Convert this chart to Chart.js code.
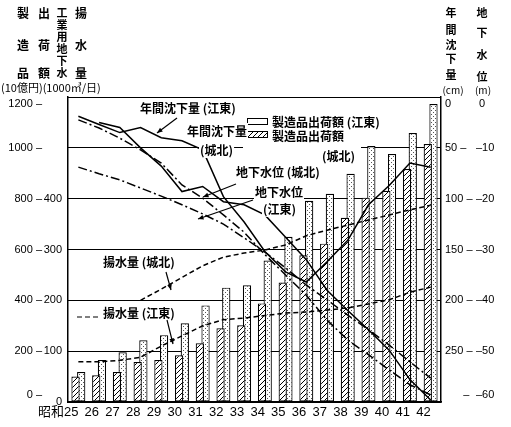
<!DOCTYPE html>
<html>
<head>
<meta charset="utf-8">
<script src="https://cdn.jsdelivr.net/npm/chart.js@4.4.0/dist/chart.umd.min.js"></script>
<style>
  html, body { margin: 0; padding: 0; background: #fff; }
</style>
</head>
<body>
<canvas id="chart" width="511" height="427"></canvas>
<script>
// 昭和25〜42年
const years = ['昭和25','26','27','28','29','30','31','32','33','34','35','36','37','38','39','40','41','42'];

// 製造品出荷額 (10億円)
const shipKoto   = [118, 165, 196, 243, 263, 310, 380, 450, 459, 557, 650, 792, 819, 898, 1007, 976, 1058, 1172];
const shipJohoku = [100, 105, 118, 157, 165, 184, 231, 290, 302, 388, 470, 577, 623, 725, 804, 831, 917, 1015];

// 年間沈下量 (cm)
const subsKoto   = [19, 27, 35, 30, 40, 43, 52, 98, 123, 152, 172, 182, 162, 141, 106, 87, 65, 69];
const subsJohoku = [null, 25, 30, 50, 68, 93, 88, 103, 106, 116, 138, 160, 190, 210, 229, 249, 278, 298];

// 地下水位 (m)
const wlJohoku = [-4.5, -6.1, -8.1, -10.4, -13, -17.3, -19.9, -23.2, -26.6, -31, -35, -39, -43.9, -47.8, -50.7, -53.7, -56.6, -58.6];
const wlKoto   = [-13.8, -15.1, -16.3, -17.9, -19.5, -21.2, -23, -25, -27.7, -30.5, -33.6, -37, -39.9, -42.9, -45.8, -48.8, -52.1, -55.3];

// 工業用地下水揚水量 (1000m3/日)
const pumpJohoku = [null, null, null, 200, 222, 245, 268, 285, 293, 299, 309, 327, 338, 348, 358, 368, 378, 387];
const pumpKoto   = [79, 79, 82, 88, 110, 130, 150, 162, 165, 170, 175, 177, 181, 185, 193, 201, 216, 226];

const numFont = { family: "'Liberation Sans', Arial, sans-serif", size: 11 };
const jpFont = "'Noto Sans CJK JP', 'Noto Sans', sans-serif";

function hatchPattern() {
  const c = document.createElement('canvas');
  c.width = 5; c.height = 5;
  const g = c.getContext('2d');
  g.fillStyle = '#fff'; g.fillRect(0, 0, 5, 5);
  g.strokeStyle = '#000'; g.lineWidth = 1;
  g.beginPath();
  g.moveTo(0, 5); g.lineTo(5, 0);
  g.moveTo(-1, 1); g.lineTo(1, -1);
  g.moveTo(4, 6); g.lineTo(6, 4);
  g.stroke();
  return g.createPattern(c, 'repeat');
}
function dotPattern() {
  const c = document.createElement('canvas');
  c.width = 4; c.height = 4;
  const g = c.getContext('2d');
  g.fillStyle = '#fff'; g.fillRect(0, 0, 4, 4);
  g.fillStyle = '#555';
  g.fillRect(1, 0, 1, 1);
  g.fillRect(3, 2, 1, 1);
  return g.createPattern(c, 'repeat');
}

const whiteBg = {
  id: 'whiteBg',
  beforeDraw(chart) {
    const ctx = chart.ctx;
    ctx.save();
    ctx.fillStyle = '#fff';
    ctx.fillRect(0, 0, chart.width, chart.height);
    ctx.restore();
  }
};

// axis titles, legend and labels
const notes = {
  id: 'notes',
  afterDraw(chart) {
    const ctx = chart.ctx;
    ctx.save();
    ctx.fillStyle = '#000';
    ctx.strokeStyle = '#000';
    ctx.textAlign = 'center';
    ctx.textBaseline = 'middle';

    const put = (s, x, y, size) => {
      ctx.font = 'bold ' + (size || 12) + 'px ' + jpFont;
      ctx.fillText(s, x, y);
    };
    // left titles
    put('製', 23, 13); put('造', 23, 45); put('品', 23, 73);
    put('出', 44, 13); put('荷', 44, 45); put('額', 44, 73);
    put('工', 62, 13, 11); put('業', 62, 25, 11); put('用', 62, 37, 11);
    put('地', 62, 49, 11); put('下', 62, 61, 11); put('水', 62, 73, 11);
    put('揚', 81, 13); put('水', 81, 45); put('量', 81, 73);
    ctx.textAlign = 'left';
    ctx.font = '11px ' + jpFont;
    ctx.fillText('(10億円)(1000㎥/日)', 1, 88);
    ctx.textAlign = 'center';
    // right titles
    put('年', 451, 13, 11); put('間', 451, 30, 11); put('沈', 451, 45, 11);
    put('下', 451, 59, 11); put('量', 451, 75, 11);
    put('地', 482, 13, 11); put('下', 482, 33, 11); put('水', 482, 55, 11); put('位', 482, 77, 11);
    ctx.font = '10px ' + jpFont;
    ctx.fillText('(cm)', 453, 90);
    ctx.fillText('(m)', 483, 90);

    // legend
    ctx.fillStyle = '#fff';
    ctx.fillRect(243, 113, 118, 52);
    ctx.lineWidth = 1;
    ctx.fillStyle = '#fff';
    ctx.fillRect(247, 118, 20, 6);
    ctx.strokeRect(247.5, 118.5, 20, 6);
    ctx.fillStyle = hatchPattern();
    ctx.fillRect(247, 131, 20, 6);
    ctx.strokeRect(247.5, 131.5, 20, 6);
    ctx.fillStyle = '#000';
    ctx.textAlign = 'left';
    ctx.font = 'bold 12px ' + jpFont;
    ctx.fillText('製造品出荷額 (江東)', 272, 122);
    ctx.fillText('製造品出荷額', 272, 136);
    ctx.fillText('(城北)', 322, 156);

    const label = (s, x, y) => {
      ctx.font = 'bold 12px ' + jpFont;
      const w = ctx.measureText(s).width;
      ctx.fillStyle = '#fff';
      ctx.fillRect(x - 1, y - 8, w + 2, 16);
      ctx.fillStyle = '#000';
      ctx.fillText(s, x, y);
    };
    label('年間沈下量 (江東)', 140, 108);
    label('年間沈下量', 187, 131);
    label('(城北)', 200, 150);
    label('地下水位 (城北)', 236, 172);
    label('地下水位', 255, 192);
    label('(江東)', 263, 209);
    label('揚水量 (城北)', 103, 262);
    label('揚水量 (江東)', 103, 313);

    // leaders
    ctx.lineWidth = 1.2;
    const lead = (x1, y1, x2, y2) => {
      ctx.beginPath(); ctx.moveTo(x1, y1); ctx.lineTo(x2, y2); ctx.stroke();
      const a = Math.atan2(y2 - y1, x2 - x1);
      ctx.beginPath();
      ctx.moveTo(x2, y2);
      ctx.lineTo(x2 - 6 * Math.cos(a - 0.4), y2 - 6 * Math.sin(a - 0.4));
      ctx.lineTo(x2 - 6 * Math.cos(a + 0.4), y2 - 6 * Math.sin(a + 0.4));
      ctx.closePath(); ctx.fill();
    };
    lead(177, 118, 157, 133);
    lead(236, 184, 203, 197);
    lead(253, 200, 198, 219);
    lead(166, 272, 171, 290);
    lead(167, 320, 173, 344);
    ctx.setLineDash([5, 3]);
    ctx.beginPath(); ctx.moveTo(77, 317); ctx.lineTo(100, 317); ctx.stroke();
    ctx.restore();
  }
};

const lineBase = {
  type: 'line',
  borderColor: '#000',
  borderWidth: 1.5,
  pointRadius: 0,
  tension: 0,
  fill: false,
  order: 0,
  spanGaps: false
};

new Chart(document.getElementById('chart'), {
  data: {
    labels: years,
    datasets: [
      Object.assign({}, lineBase, { label: '年間沈下量 (江東)', data: subsKoto, yAxisID: 'yS' }),
      Object.assign({}, lineBase, { label: '年間沈下量 (城北)', data: subsJohoku, yAxisID: 'yS' }),
      Object.assign({}, lineBase, { label: '地下水位 (城北)', data: wlJohoku, yAxisID: 'yW', borderDash: [9, 3, 2, 3] }),
      Object.assign({}, lineBase, { label: '地下水位 (江東)', data: wlKoto, yAxisID: 'yW', borderDash: [9, 3, 2, 3] }),
      Object.assign({}, lineBase, { label: '揚水量 (城北)', data: pumpJohoku, yAxisID: 'yP', borderDash: [5, 3] }),
      Object.assign({}, lineBase, { label: '揚水量 (江東)', data: pumpKoto, yAxisID: 'yP', borderDash: [5, 3] }),
      {
        type: 'bar', label: '製造品出荷額 (城北)', data: shipJohoku, yAxisID: 'y', order: 1,
        backgroundColor: hatchPattern(), borderColor: '#000', borderWidth: 1.2, borderSkipped: false,
        barPercentage: 1.45, categoryPercentage: 0.55
      },
      {
        type: 'bar', label: '製造品出荷額 (江東)', data: shipKoto, yAxisID: 'y', order: 2,
        backgroundColor: dotPattern(), borderColor: '#000', borderWidth: 1.2, borderSkipped: false,
        barPercentage: 1.45, categoryPercentage: 0.55
      }
    ]
  },
  options: {
    responsive: false,
    animation: false,
    layout: { padding: { top: 97, left: 0, right: 0, bottom: 0 } },
    plugins: { legend: { display: false }, tooltip: { enabled: false } },
    scales: {
      x: {
        offset: true,
        grid: { display: false, drawTicks: false },
        border: { display: true, color: '#000', width: 1.5 },
        ticks: { color: '#000', font: { family: "'Liberation Sans', 'Noto Sans CJK JP', sans-serif", size: 13 },
                 align: 'end', padding: 3, maxRotation: 0, autoSkip: false },
        afterFit(s) { s.height = 25; }
      },
      y: {
        position: 'left', weight: 1, min: 0, max: 1200,
        grid: { color: '#000', lineWidth: 1, drawTicks: false },
        border: { display: false },
        ticks: {
          stepSize: 200, color: '#000', font: numFont, padding: 1,
          callback: v => v === 1200 ? ['', '1200 –'] : (v === 0 ? ['0 –', ''] : v + ' –')
        },
        afterFit(s) { s.width = 43; }
      },
      yP: {
        position: 'left', weight: 0, min: 0, max: 600,
        grid: { display: false, drawTicks: false },
        border: { display: true, color: '#000', width: 1.5 },
        ticks: {
          stepSize: 100, color: '#000', font: numFont, padding: 6, autoSkip: false,
          callback: v => v > 400 ? '' : String(v)
        },
        afterFit(s) { s.width = 25; }
      },
      yS: {
        position: 'right', weight: 0, min: 0, max: 300, reverse: true,
        grid: { display: false, drawTicks: false },
        border: { display: true, color: '#000', width: 1.5 },
        ticks: {
          stepSize: 50, color: '#000', font: numFont, padding: 4,
          callback: v => v === 0 ? ['', '0'] : (v === 300 ? ['      –', ''] : v + ' –')
        },
        afterFit(s) { s.width = 33; }
      },
      yW: {
        position: 'right', weight: 1, min: -60, max: 0,
        grid: { display: false, drawTicks: false },
        border: { display: false },
        ticks: {
          stepSize: 10, color: '#000', font: numFont, padding: 2,
          callback: v => v === 0 ? ['', ' 0'] : (v === -60 ? ['–60', ''] : '–' + Math.abs(v))
        },
        afterFit(s) { s.width = 37; }
      }
    }
  },
  plugins: [whiteBg, notes]
});
</script>
</body>
</html>
